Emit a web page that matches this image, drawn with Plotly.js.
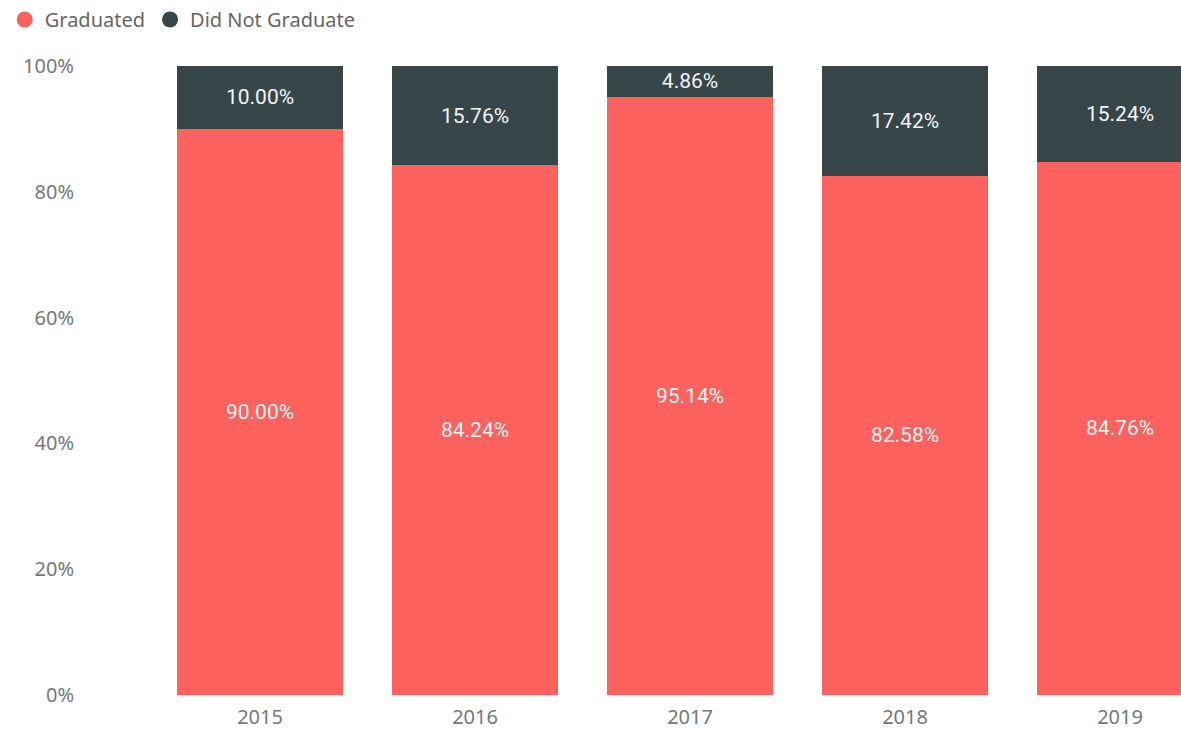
<!DOCTYPE html>
<html>
<head>
<meta charset="utf-8">
<script src="https://cdn.plot.ly/plotly-3.0.1.min.js"></script>
<style>html,body{margin:0;padding:0;background:#fff;}#chart{width:1181px;height:729px;}</style>
</head>
<body>
<div id="chart"></div>
<script>
var years = ["2015", "2016", "2017", "2018", "2019"];
var graduated = [90.00, 84.24, 95.14, 82.58, 84.76];
var notGraduated = [10.00, 15.76, 4.86, 17.42, 15.24];
var seriesNames = ["Graduated", "Did Not Graduate"];
var colors = ["#FD625E", "#374649"];

var labelFont = {family: "Roboto, 'DejaVu Sans Condensed', sans-serif", size: 21, color: "#F4F4F4", weight: 400};

var traces = [
  {type: "bar", x: years, y: graduated, name: seriesNames[0], marker: {color: colors[0]},
   texttemplate: "%{y:.2f}%", textposition: "inside", insidetextanchor: "middle",
   insidetextfont: labelFont, showlegend: false, hoverinfo: "skip"},
  {type: "bar", x: years, y: notGraduated, name: seriesNames[1], marker: {color: colors[1]},
   texttemplate: "%{y:.2f}%", textposition: "inside", insidetextanchor: "middle",
   insidetextfont: labelFont, showlegend: false, hoverinfo: "skip"},
  {type: "scatter", mode: "markers", x: [null], y: [null], name: seriesNames[0],
   marker: {color: colors[0], size: 20, symbol: "circle"}, showlegend: true},
  {type: "scatter", mode: "markers", x: [null], y: [null], name: seriesNames[1],
   marker: {color: colors[1], size: 20, symbol: "circle"}, showlegend: true}
];

var layout = {
  width: 1181, height: 729,
  margin: {l: 75, r: 0, t: 66, b: 34, pad: 0, autoexpand: false},
  barmode: "stack",
  bargap: 0.228,
  paper_bgcolor: "#ffffff", plot_bgcolor: "#ffffff",
  font: {family: "'Noto Sans', 'Open Sans', sans-serif", color: "#777777"},
  showlegend: true,
  legend: {orientation: "h", xref: "container", yref: "container", x: 0.004, xanchor: "left",
           y: 1.0, yanchor: "top",
           font: {size: 20, color: "#666666"}, itemwidth: 30, tracegroupgap: 0,
           traceorder: "normal", bgcolor: "rgba(0,0,0,0)"},
  xaxis: {type: "category", range: [-0.8605, 4.2837], showgrid: false, zeroline: false,
          showline: false, ticks: "", ticklabelstandoff: 8,
          tickfont: {size: 20, color: "#777777"}, fixedrange: true, automargin: false},
  yaxis: {range: [0, 100], dtick: 20, ticksuffix: "%", showgrid: false, zeroline: false,
          showline: false, ticks: "", tickfont: {size: 20, color: "#777777"}, fixedrange: true,
          automargin: false}
};

Plotly.newPlot("chart", traces, layout, {displayModeBar: false, staticPlot: true});
</script>
</body>
</html>
